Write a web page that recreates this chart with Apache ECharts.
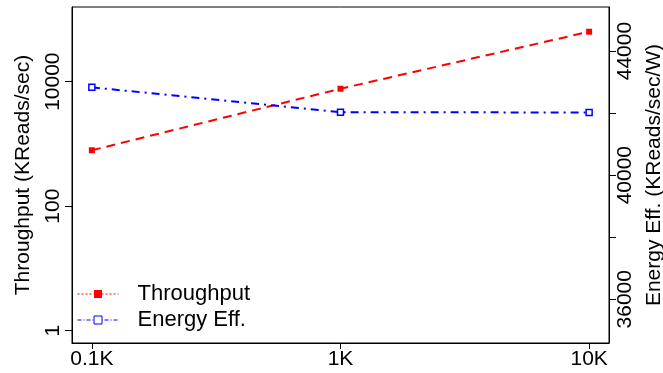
<!DOCTYPE html>
<html>
<head>
<meta charset="utf-8">
<script src="https://cdn.jsdelivr.net/npm/echarts@6/dist/echarts.min.js"></script>
<style>
html, body { margin: 0; padding: 0; background: #fff; }
#chart { width: 663px; height: 373px; }
</style>
</head>
<body>
<div id="chart"></div>
<script>
// data
var sizes = [100, 1000, 10000];
var sizeLabels = ['0.1K', '1K', '10K'];
var throughput = [790, 7700, 63500];
var energyEff = [42830, 42030, 42020];
var leftTicks = [1, 100, 10000];
var rightTicks = [36000, 38000, 40000, 42000, 44000];
var rightLabels = [36000, 40000, 44000];

var font = 'Liberation Sans';
var chart = echarts.init(document.getElementById('chart'));

function pairs(xs, ys) {
    var out = [];
    for (var i = 0; i < xs.length; i++) {
        out.push([xs[i], ys[i]]);
    }
    return out;
}

var plain = function (v) { return String(Math.round(v)); };

var option = {
    animation: false,
    backgroundColor: '#fff',
    textStyle: { fontFamily: font, color: '#000' },
    grid: {
        left: 72, right: 54, top: 7, bottom: 30,
        outerBoundsMode: 'none',
        show: true, borderColor: '#000', borderWidth: 1
    },
    legend: {
        left: 72, top: 278,
        orient: 'vertical',
        itemWidth: 41, itemHeight: 10, itemGap: 4,
        textStyle: { fontFamily: font, fontSize: 22, color: '#000', padding: [0, 0, 0, 14] },
        data: [
            { name: 'Throughput', lineStyle: { width: 1, type: [2, 2] } },
            { name: 'Energy Eff.', itemStyle: { color: '#fff', borderColor: '#0000ff', borderWidth: 1 },
              lineStyle: { width: 1, type: [4, 2, 1, 2] } }
        ]
    },
    xAxis: {
        type: 'log',
        min: 83.2, max: 12020,
        axisLine: { lineStyle: { color: '#000' } },
        axisTick: { customValues: sizes, length: 6, lineStyle: { color: '#000' } },
        axisLabel: {
            customValues: sizes,
            fontFamily: font, fontSize: 21, color: '#000', margin: 6,
            formatter: function (v) {
                var i = sizes.indexOf(Math.round(v));
                return i >= 0 ? sizeLabels[i] : '';
            }
        },
        splitLine: { show: false }
    },
    yAxis: [
        {
            type: 'log',
            min: Math.pow(10, -0.2), max: Math.pow(10, 5.2),
            name: 'Throughput (KReads/sec)',
            nameLocation: 'middle', nameGap: 38,
            nameTextStyle: { fontFamily: font, fontSize: 21, color: '#000' },
            axisLine: { show: true, lineStyle: { color: '#000' } },
            axisTick: { customValues: leftTicks, length: 7, lineStyle: { color: '#000' } },
            axisLabel: {
                customValues: leftTicks, formatter: plain,
                rotate: 90, fontFamily: font, fontSize: 21, color: '#000', margin: 8
            },
            splitLine: { show: false }
        },
        {
            type: 'value',
            position: 'right',
            min: 34590, max: 45420,
            name: 'Energy Eff. (KReads/sec/W)',
            nameLocation: 'middle', nameGap: 33, nameRotate: 90,
            nameTextStyle: { fontFamily: font, fontSize: 21, color: '#000' },
            axisLine: { show: true, lineStyle: { color: '#000' } },
            axisTick: { customValues: rightTicks, length: 7, lineStyle: { color: '#000' } },
            axisLabel: {
                customValues: rightLabels, formatter: plain,
                rotate: 90, fontFamily: font, fontSize: 21, color: '#000', margin: 6
            },
            splitLine: { show: false }
        }
    ],
    series: [
        {
            name: 'Throughput',
            type: 'line',
            yAxisIndex: 0,
            data: pairs(sizes, throughput),
            symbol: 'rect', symbolSize: 6,
            color: '#ff0000',
            itemStyle: { color: '#ff0000' },
            lineStyle: { color: '#ff0000', width: 2, type: [9, 6] }
        },
        {
            name: 'Energy Eff.',
            type: 'line',
            yAxisIndex: 1,
            data: pairs(sizes, energyEff),
            symbol: 'rect', symbolSize: 6,
            color: '#0000ff',
            itemStyle: { color: '#fff', borderColor: '#0000ff', borderWidth: 1.5 },
            lineStyle: { color: '#0000ff', width: 2, type: [8, 5, 2, 5] }
        }
    ]
};

chart.setOption(option);
</script>
</body>
</html>
